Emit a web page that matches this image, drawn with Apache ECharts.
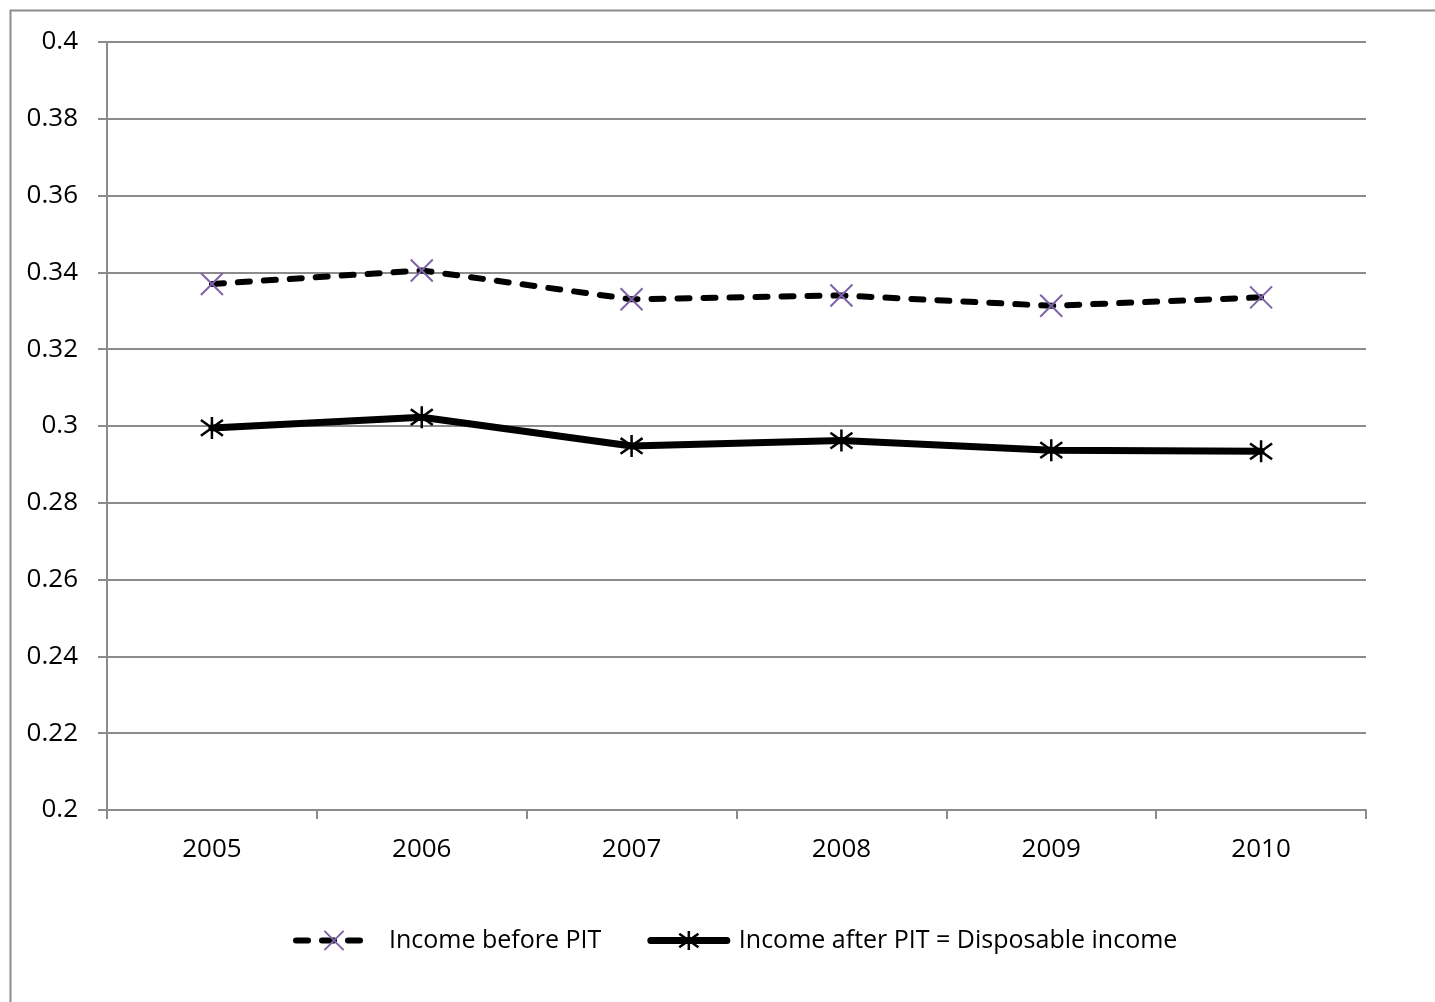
<!DOCTYPE html>
<html><head><meta charset="utf-8">
<script src="https://cdn.jsdelivr.net/npm/echarts@6/dist/echarts.min.js"></script>
<style>html,body{margin:0;padding:0;background:#fff}#c{width:1435px;height:1002px}</style>
</head><body><div id="c"></div>
<script>
const years = ['2005','2006','2007','2008','2009','2010'];
const beforePIT = [0.337, 0.3405, 0.3330, 0.3340, 0.3313, 0.3335];
const afterPIT = [0.2995, 0.3023, 0.2948, 0.2962, 0.2937, 0.2934];
const yTicks = {min: 0.2, max: 0.4, step: 0.02};
const seriesNames = ['Income before PIT', 'Income after PIT = Disposable income'];

const chart = echarts.init(document.getElementById('c'));
const font = '"Open Sans", Lato, sans-serif';
const xSym = 'path://M0,0L10,10M10,0L0,10';
const starSym = 'path://M0,0L10,10M10,0L0,10M5,-2L5,12';
chart.setOption({
  animation: false,
  graphic: [{type:'rect', shape:{x:10.5,y:10.5,width:1440,height:1000}, style:{fill:'none',stroke:'#8c8c8c',lineWidth:2}, silent:true}],
  grid: {left:107, right:69, top:42, bottom:192, containLabel:false},
  xAxis: {type:'category', data: years, boundaryGap:true,
    axisLine:{lineStyle:{color:'#8c8c8c',width:2}},
    axisTick:{show:true, length:9, lineStyle:{color:'#8c8c8c',width:2}},
    axisLabel:{color:'#000', fontSize:26, fontFamily:font, margin:27}},
  yAxis: {type:'value', min:yTicks.min, max:yTicks.max, interval:yTicks.step,
    axisLine:{show:true, lineStyle:{color:'#8c8c8c',width:2}},
    axisTick:{show:true, length:9, lineStyle:{color:'#8c8c8c',width:2}},
    splitLine:{lineStyle:{color:'#8c8c8c',width:2}},
    axisLabel:{color:'#000', fontSize:26, fontFamily:font, margin:29, formatter: v => String(+v.toFixed(2))}},
  legend: {bottom:44, left:288, itemWidth:76, itemHeight:24, itemGap:46,
    textStyle:{color:'#000', fontSize:25, fontFamily:font},
    data:[
      {name: seriesNames[0], lineStyle:{width:6, type:[12,14], cap:'round'}, itemStyle:{borderWidth:2}, textStyle:{padding:[0,0,0,12]}},
      {name: seriesNames[1], lineStyle:{width:7, cap:'round'}, itemStyle:{borderWidth:2.5}, textStyle:{padding:[0,0,0,7]}}
    ]},
  series: [
    {name: seriesNames[0], type:'line', data: beforePIT,
      symbol:xSym, symbolSize:22,
      lineStyle:{color:'#000', width:6, type:[12,14], cap:'round'},
      itemStyle:{color:'none', borderColor:'#7f63a8', borderWidth:2}},
    {name: seriesNames[1], type:'line', data: afterPIT,
      symbol:starSym, symbolSize:22,
      lineStyle:{color:'#000', width:7, cap:'round'},
      itemStyle:{color:'none', borderColor:'#000', borderWidth:2.5}}
  ]
});
</script></body></html>
